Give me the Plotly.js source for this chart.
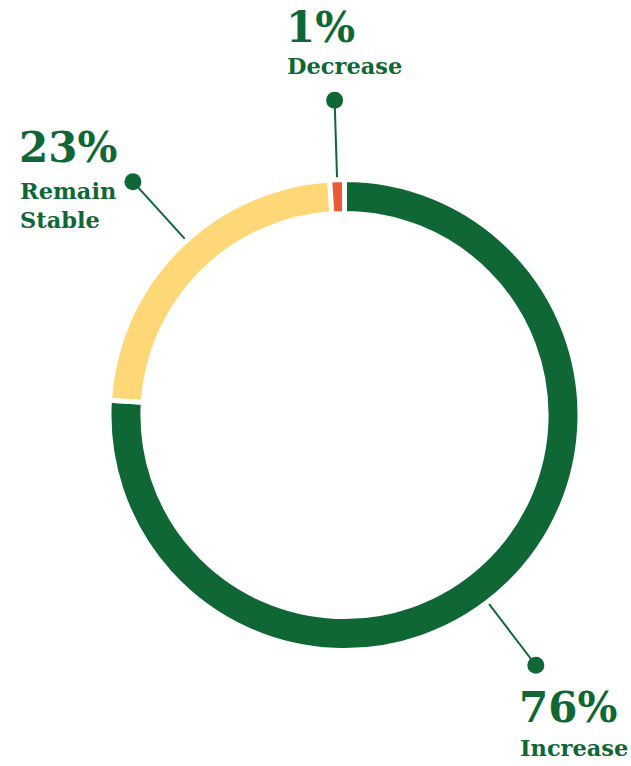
<!DOCTYPE html>
<html>
<head>
<meta charset="utf-8">
<script src="https://cdn.plot.ly/plotly-3.0.1.min.js"></script>
<style>html,body{margin:0;padding:0;background:#fff;}#chart{width:631px;height:766px;}</style>
</head>
<body>
<div id="chart"></div>
<script>
// ---- data ----
const categories = ["Increase", "Remain Stable", "Decrease"];
const values = [76, 23, 1];
const labelLines = ["Increase", "Remain<br>Stable", "Decrease"];
const colors = ["#0e6735", "#fed877", "#e85b34"];

// ---- layout constants (pixels) ----
const W = 631, H = 766;
const CX = 344.5, CY = 415, R = 235.5;
const ringOuter = 234, dotR = 315;
const green = "#0e6735";
const font = "DejaVu Serif";
// leader angle tweaks (deg) and label placement: [left x, number top y, label top y]
const angleOffset = [5.8, 2.8, 0];
const labelPos = [[517, 681, 733], [17, 121, 176], [284, 1, 51]];

const total = values.reduce((a, b) => a + b, 0);
let cum = 0;
const lineX = [], lineY = [], dotX = [], dotY = [];
const annotations = [];
values.forEach((v, i) => {
  const mid = (cum + v / 2) / total * 360 + angleOffset[i];
  cum += v;
  const t = mid * Math.PI / 180;
  const sx = Math.sin(t), cy = -Math.cos(t);
  lineX.push(CX + ringOuter * sx, CX + dotR * sx, null);
  lineY.push(CY + ringOuter * cy, CY + dotR * cy, null);
  dotX.push(CX + dotR * sx);
  dotY.push(CY + dotR * cy);
  const pct = Math.round(v / total * 100) + "%";
  annotations.push({
    x: labelPos[i][0], y: labelPos[i][1], xref: "x", yref: "y",
    xanchor: "left", yanchor: "top", align: "left", showarrow: false,
    text: "<b>" + pct + "</b>",
    font: {family: font, size: 42, color: green}
  });
  annotations.push({
    x: labelPos[i][0] + 1, y: labelPos[i][2], xref: "x", yref: "y",
    xanchor: "left", yanchor: "top", align: "left", showarrow: false,
    text: "<b>" + labelLines[i] + "</b>",
    font: {family: font, size: 22.5, color: green}
  });
});

const pie = {
  type: "pie",
  values: values,
  labels: categories,
  sort: false,
  direction: "clockwise",
  rotation: 0,
  hole: 0.856,
  marker: {colors: colors, line: {color: "#ffffff", width: 5}},
  textinfo: "none",
  hoverinfo: "none",
  showlegend: false,
  domain: {x: [(CX - R) / W, (CX + R) / W], y: [(H - CY - R) / H, (H - CY + R) / H]}
};
const leaders = {
  type: "scatter", mode: "lines", x: lineX, y: lineY,
  line: {color: green, width: 2}, hoverinfo: "none", showlegend: false
};
const dots = {
  type: "scatter", mode: "markers", x: dotX, y: dotY,
  marker: {color: green, size: 17}, hoverinfo: "none", showlegend: false
};

const layout = {
  width: W, height: H,
  margin: {l: 0, r: 0, t: 0, b: 0},
  paper_bgcolor: "#fff", plot_bgcolor: "rgba(0,0,0,0)",
  xaxis: {range: [0, W], visible: false, fixedrange: true},
  yaxis: {range: [H, 0], visible: false, fixedrange: true},
  annotations: annotations,
  showlegend: false
};
Plotly.newPlot("chart", [pie, leaders, dots], layout, {displayModeBar: false, staticPlot: true});
</script>
</body>
</html>
